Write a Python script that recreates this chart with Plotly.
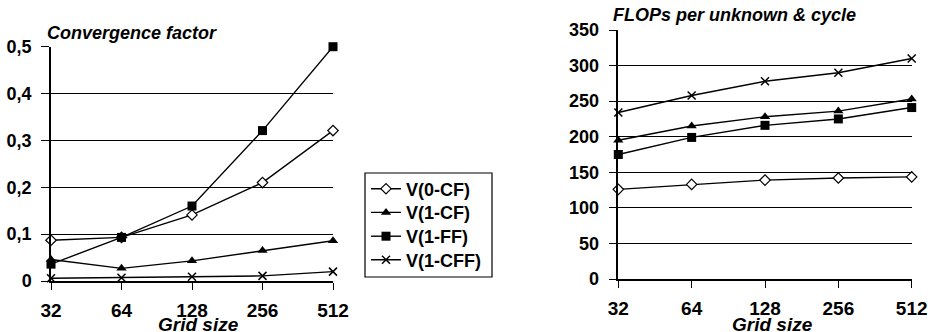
import plotly.graph_objects as go

grid_sizes = ["32", "64", "128", "256", "512"]
series_names = ["V(0-CF)", "V(1-CF)", "V(1-FF)", "V(1-CFF)"]

conv_v0cf = [0.087, 0.093, 0.141, 0.21, 0.321]
conv_v1cf = [0.046, 0.027, 0.043, 0.065, 0.086]
conv_v1ff = [0.036, 0.093, 0.16, 0.321, 0.5]
conv_v1cff = [0.006, 0.007, 0.009, 0.011, 0.02]

flops_v0cf = [126, 133, 139, 142, 143.5]
flops_v1cf = [195, 215, 228, 236, 253]
flops_v1ff = [175, 199, 216, 225, 241]
flops_v1cff = [234, 258, 278, 290, 310]

W, H = 932, 332
FONT = "Liberation Sans"

markers = [
    dict(symbol="diamond", size=8, color="white", line=dict(color="black", width=1.2)),
    dict(symbol="triangle-up", size=9, color="black", line=dict(color="black", width=0)),
    dict(symbol="square", size=9, color="black", line=dict(color="black", width=0)),
    dict(symbol="x-thin", size=8, color="black", line=dict(color="black", width=1.5)),
]

def px_x(p):
    return p / W

def px_y(p):
    return (H - p) / H

legend_ids = ["legend", "legend2", "legend3", "legend4"]
legend_rows = [189, 212.7, 236.5, 260]

fig = go.Figure()
conv = [conv_v0cf, conv_v1cf, conv_v1ff, conv_v1cff]
flops = [flops_v0cf, flops_v1cf, flops_v1ff, flops_v1cff]
for i, name in enumerate(series_names):
    fig.add_trace(go.Scatter(x=grid_sizes, y=conv[i], name="<b>" + name + "</b>", mode="lines+markers",
                             line=dict(color="black", width=1.4), marker=markers[i],
                             xaxis="x", yaxis="y", cliponaxis=False, showlegend=True,
                             legend=legend_ids[i]))
for i, name in enumerate(series_names):
    fig.add_trace(go.Scatter(x=grid_sizes, y=flops[i], name=name, mode="lines+markers",
                             line=dict(color="black", width=1.4), marker=markers[i],
                             xaxis="x2", yaxis="y2", cliponaxis=False, showlegend=False))

xcommon = dict(type="category", range=[0, 4], showline=True, linecolor="black", linewidth=1.5,
               ticks="outside", ticklen=7, tickwidth=1.2, tickcolor="black",
               showgrid=False, zeroline=False, automargin=False,
               tickvals=grid_sizes, ticktext=["<b>" + g + "</b>" for g in grid_sizes],
               tickfont=dict(family=FONT, size=19, color="black"),
               ticklabelstandoff=4, fixedrange=True)
ycommon = dict(showline=True, linecolor="black", linewidth=1.5, ticks="outside", ticklen=8,
               tickwidth=1.2, tickcolor="black", showgrid=True, gridcolor="black", gridwidth=1,
               zeroline=False, automargin=False,
               tickfont=dict(family=FONT, size=18, color="black", weight="bold"),
               ticklabelstandoff=6, fixedrange=True)

layout = dict(
    width=W, height=H, autosize=False,
    margin=dict(l=0, r=0, t=0, b=0, pad=0),
    paper_bgcolor="white", plot_bgcolor="white",
    separators=", ",
    xaxis=dict(xcommon, domain=[px_x(51), px_x(333)], anchor="y"),
    yaxis=dict(ycommon, domain=[px_y(281), px_y(46.7)], range=[0, 0.5], dtick=0.1, anchor="x"),
    xaxis2=dict(xcommon, domain=[px_x(618.3), px_x(911.7)], anchor="y2"),
    yaxis2=dict(ycommon, domain=[px_y(279), px_y(30)], range=[0, 350], dtick=50, anchor="x2"),
    showlegend=True,
)
for lid, row in zip(legend_ids, legend_rows):
    layout[lid] = dict(x=px_x(366), y=px_y(row), xanchor="left", yanchor="middle",
                       borderwidth=0, bgcolor="rgba(0,0,0,0)",
                       font=dict(family=FONT, size=18, color="black"), itemwidth=30)
fig.update_layout(**layout)

# legend frame
fig.add_shape(type="rect", xref="paper", yref="paper",
              x0=px_x(365), x1=px_x(492), y0=px_y(277), y1=px_y(173),
              line=dict(color="black", width=1.2), fillcolor="rgba(0,0,0,0)", layer="below")

title_font = dict(family=FONT, size=18, color="black")
axis_title_font = dict(family=FONT, size=19, color="black")
fig.add_annotation(text="<b><i>Convergence factor</i></b>", xref="paper", yref="paper",
                   x=px_x(45), y=px_y(33), xanchor="left", yanchor="middle",
                   showarrow=False, font=title_font)
fig.add_annotation(text="<b><i>FLOPs per unknown & cycle</i></b>", xref="paper", yref="paper",
                   x=px_x(611), y=px_y(15), xanchor="left", yanchor="middle",
                   showarrow=False, font=title_font)
fig.add_annotation(text="<b><i>Grid size</i></b>", xref="paper", yref="paper",
                   x=px_x(198.5), y=px_y(324), xanchor="center", yanchor="middle",
                   showarrow=False, font=axis_title_font)
fig.add_annotation(text="<b><i>Grid size</i></b>", xref="paper", yref="paper",
                   x=px_x(772.5), y=px_y(324), xanchor="center", yanchor="middle",
                   showarrow=False, font=axis_title_font)

fig.write_html("out.html", config=dict(displayModeBar=False),
               post_script="document.body.style.margin='0';document.body.style.overflow='hidden';")
